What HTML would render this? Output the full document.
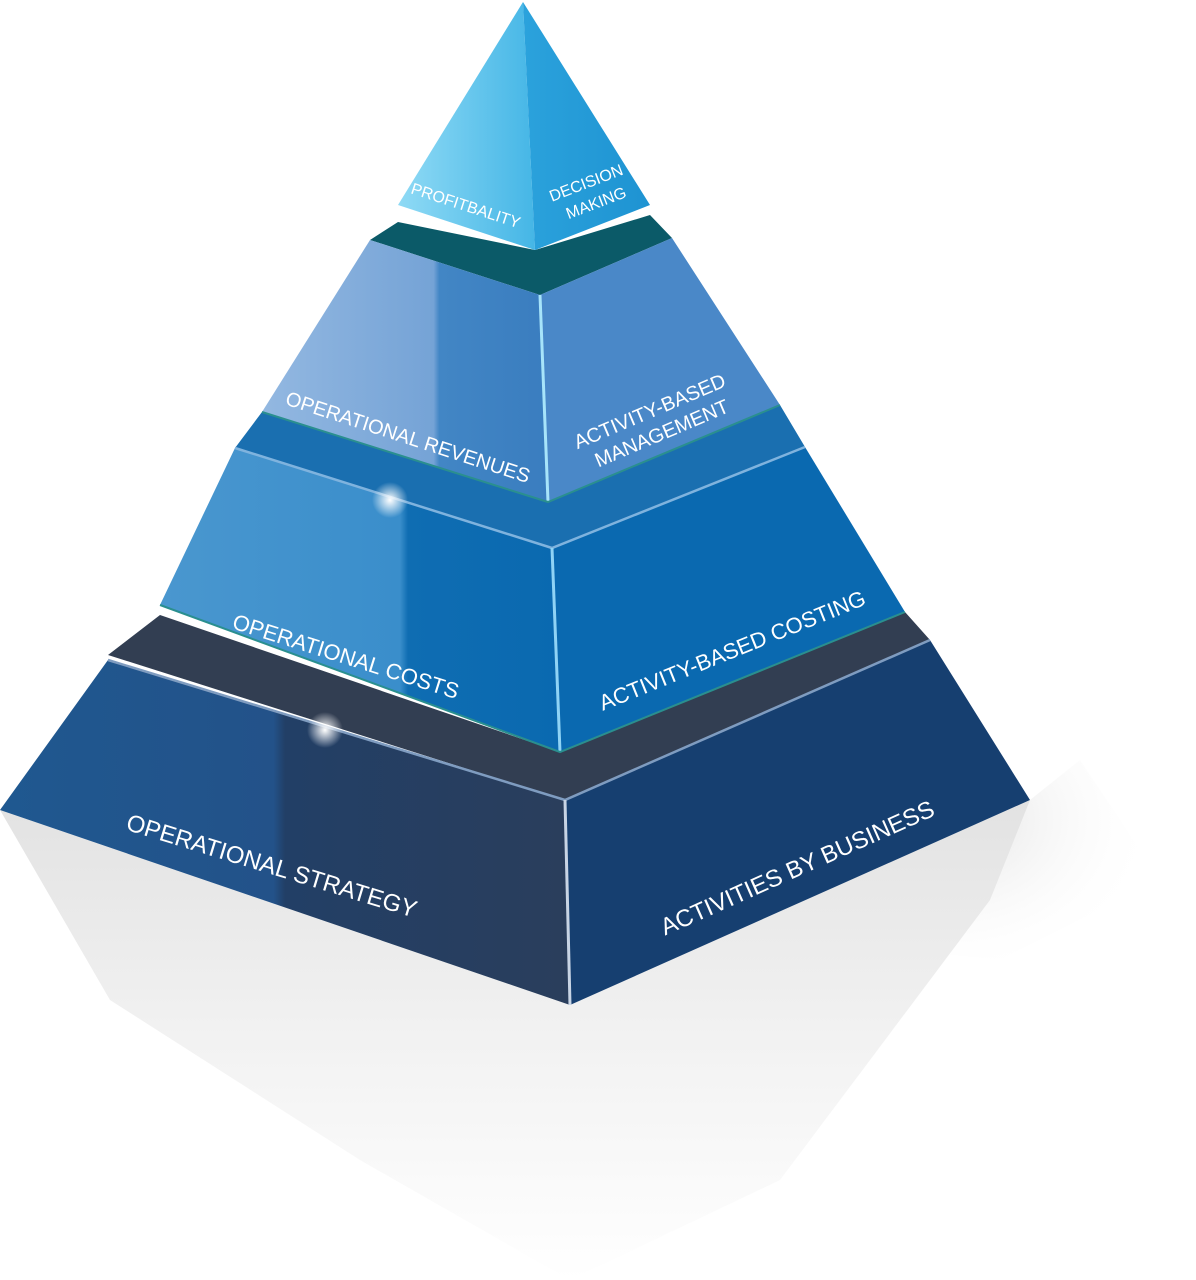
<!DOCTYPE html>
<html><head><meta charset="utf-8"><style>
html,body{margin:0;padding:0;background:#fff;}
svg{display:block;}
text{font-family:"Liberation Sans",sans-serif;fill:#fff;}
</style></head><body>
<svg width="1196" height="1280" viewBox="0 0 1196 1280" xmlns="http://www.w3.org/2000/svg">
<defs>
<linearGradient id="sh" x1="0" y1="0" x2="0" y2="1">
<stop offset="0" stop-color="#e2e2e2"/><stop offset="0.5" stop-color="#f2f2f2"/><stop offset="1" stop-color="#ffffff"/></linearGradient>
<radialGradient id="rs" cx="0.2" cy="0.3" r="0.8"><stop offset="0" stop-color="#cfcfcf"/><stop offset="1" stop-color="#ffffff" stop-opacity="0"/></radialGradient>
<linearGradient id="t1l" x1="0" y1="0" x2="1" y2="0">
<stop offset="0" stop-color="#8fdaf5"/><stop offset="1" stop-color="#45b6e6"/></linearGradient>
<linearGradient id="t1r" x1="0" y1="0" x2="1" y2="0">
<stop offset="0" stop-color="#2ba2dc"/><stop offset="1" stop-color="#1e93d2"/></linearGradient>
<linearGradient id="t2l" x1="0" y1="0" x2="1" y2="0">
<stop offset="0" stop-color="#93b8e1"/><stop offset="0.6" stop-color="#75a3d6"/><stop offset="0.62" stop-color="#4286c5"/><stop offset="1" stop-color="#3a7dbf"/></linearGradient>
<linearGradient id="t3l" x1="0" y1="0" x2="1" y2="0">
<stop offset="0" stop-color="#4a97cf"/><stop offset="0.6" stop-color="#3a8ecb"/><stop offset="0.62" stop-color="#0f6db2"/><stop offset="1" stop-color="#0a69b0"/></linearGradient>
<linearGradient id="t4l" x1="0" y1="0" x2="1" y2="0">
<stop offset="0" stop-color="#1f5890"/><stop offset="0.48" stop-color="#235289"/><stop offset="0.5" stop-color="#223f66"/><stop offset="1" stop-color="#2a3e5c"/></linearGradient>
<radialGradient id="glow"><stop offset="0" stop-color="#fff" stop-opacity="1"/><stop offset="1" stop-color="#fff" stop-opacity="0"/></radialGradient>
</defs>
<!-- shadow -->
<polygon points="1030,800 1080,760 1160,880 1000,960 900,950" fill="url(#rs)" opacity="0.6"/>
<polygon points="0,810 570,1005 1030,800 990,900 780,1180 570,1280 360,1160 110,1000" fill="url(#sh)"/>
<!-- tier 4 -->
<polygon points="108,655 160,615 560,752 905,612 930,640 565,800" fill="#323e52"/>
<polygon points="108,660 565,800 570,1005 0,810" fill="url(#t4l)"/>
<polygon points="565,800 930,640 1030,800 570,1005" fill="#163f70"/>
<polyline points="108,660 565,800 930,640" fill="none" stroke="#7f9cc0" stroke-width="2.5"/>
<line x1="565" y1="800" x2="570" y2="1005" stroke="#c8d4e4" stroke-width="3"/>
<!-- tier 3 -->
<polygon points="235,448 262,412 548,502 780,405 805,447 552,548" fill="#1a6fb0"/>
<polygon points="235,448 552,548 560,752 160,605" fill="url(#t3l)"/>
<polygon points="552,548 805,447 905,612 560,752" fill="#0a69b0"/>
<polyline points="235,448 552,548 805,447" fill="none" stroke="#7fb3de" stroke-width="2.5"/>
<line x1="552" y1="548" x2="560" y2="752" stroke="#8fd3f5" stroke-width="3"/>
<polyline points="160,605 560,752 905,612" fill="none" stroke="#2a8f8f" stroke-width="2"/>
<!-- tier 2 -->
<polygon points="370,240 398,222 535,250 650,215 672,238 540,295" fill="#0b5a68"/>
<polygon points="370,240 540,295 548,502 262,412" fill="url(#t2l)"/>
<polygon points="540,295 672,238 780,405 548,502" fill="#4a88c8"/>
<line x1="540" y1="295" x2="548" y2="502" stroke="#a7e4fa" stroke-width="3"/>
<polyline points="262,412 548,502 780,405" fill="none" stroke="#2a8f8f" stroke-width="2"/>
<!-- tier 1 -->
<polygon points="523,2 535,250 398,205" fill="url(#t1l)"/>
<polygon points="523,2 650,205 535,250" fill="url(#t1r)"/>
<!-- glows -->
<circle cx="390" cy="500" r="18" fill="url(#glow)"/>
<circle cx="325" cy="730" r="18" fill="url(#glow)"/>
<!-- labels -->
<text x="466" y="211" font-size="16" text-anchor="middle" transform="rotate(18 466 205)">PROFITBALITY</text>
<text x="588" y="188" font-size="16" text-anchor="middle" transform="rotate(-21 588 188)">DECISION</text>
<text x="598" y="208" font-size="16" text-anchor="middle" transform="rotate(-21 598 208)">MAKING</text>
<text x="408" y="444" font-size="20" text-anchor="middle" transform="rotate(18 408 437)">OPERATIONAL REVENUES</text>
<text x="650" y="418" font-size="20" text-anchor="middle" transform="rotate(-23 650 412)">ACTIVITY-BASED</text>
<text x="662" y="440" font-size="20" text-anchor="middle" transform="rotate(-23 662 434)">MANAGEMENT</text>
<text x="346" y="664" font-size="22" text-anchor="middle" transform="rotate(17.5 346 656)">OPERATIONAL COSTS</text>
<text x="732" y="658" font-size="22" text-anchor="middle" transform="rotate(-22 732 650)">ACTIVITY-BASED COSTING</text>
<text x="272" y="874" font-size="24" text-anchor="middle" transform="rotate(17 272 865)">OPERATIONAL STRATEGY</text>
<text x="797" y="876" font-size="24" text-anchor="middle" transform="rotate(-24 797 867)">ACTIVITIES BY BUSINESS</text>
</svg>
</body></html>
